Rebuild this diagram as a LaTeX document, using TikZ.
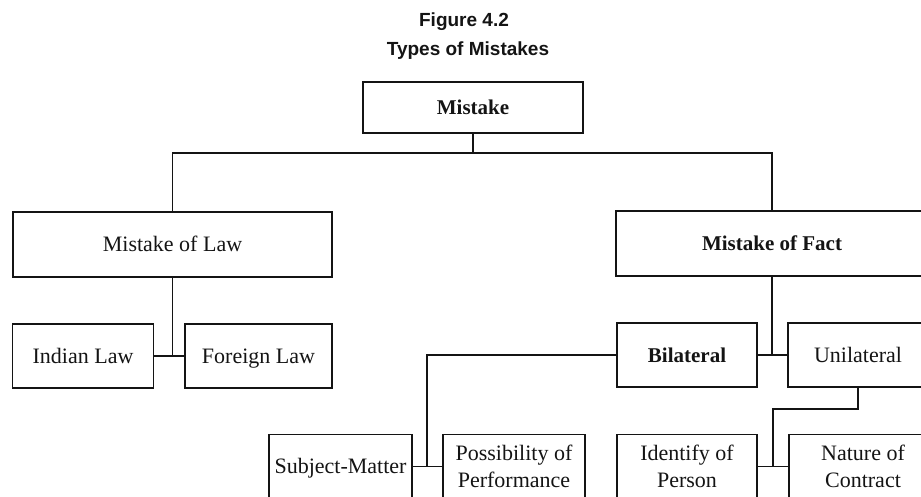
\documentclass[tikz,border=0pt]{standalone}
\usepackage{fontspec}
\setmainfont{Liberation Serif}
\newfontfamily\titlefont{Liberation Sans}
\usetikzlibrary{positioning, calc}
\definecolor{ink}{HTML}{141414}
\tikzset{
  box/.style={draw=ink, line width=1.7pt, text=ink, align=center, inner sep=0pt,
    font=\fontsize{22}{27}\selectfont},
  oneline/.style={text height=14.5pt, text depth=0pt},
  boldbox/.style={box, oneline, font=\fontsize{21}{26}\selectfont\bfseries},
  link/.style={draw=ink, line width=1.7pt},
  title/.style={font=\titlefont\bfseries\fontsize{19}{22}\selectfont, text=ink}
}

\begin{document}
\begin{tikzpicture}[x=1pt,y=-1pt]

\clip (0,0) rectangle (921,496);
\fill[white] (0,0) rectangle (921,496);

\node[title] (fig) at (464,22) {Figure 4.2};
\node[title] (types) at (468,51) {Types of Mistakes};

% Top
\node[boldbox, minimum width=220pt, minimum height=51pt] (mistake) at (473,107.5) {Mistake};

% Second level
\node[box, oneline, minimum width=319pt, minimum height=65pt] (law) at (172.5,244.5) {Mistake of Law};
\node[boldbox, minimum width=312pt, minimum height=65pt] (fact) at (772,243.5) {Mistake of Fact};

% Law branch
\node[box, oneline, minimum width=141pt, minimum height=64pt] (indian) at (83,356) {Indian Law};
\node[box, oneline, minimum width=147pt, minimum height=64pt] (foreign) at (258.5,356) {Foreign Law};

% Fact branch
\node[boldbox, minimum width=140pt, minimum height=64pt] (bilateral) at (687,355) {Bilateral};
\node[box, oneline, minimum width=140pt, minimum height=64pt] (unilateral) at (858,355) {Unilateral};

% Bottom level
\node[box, oneline, minimum width=143pt, minimum height=64pt] (subject) at (340.5,466.5) {Subject-Matter};
\node[box, minimum width=142pt, minimum height=64pt] (possibility) at (514,466.5) {Possibility of\\Performance};
\node[box, minimum width=140pt, minimum height=64pt] (identify) at (687,466.5) {Identify of\\Person};
\node[box, minimum width=148pt, minimum height=64pt] (nature) at (863,466.5) {Nature of\\Contract};

% Connectors
\coordinate (top) at (473,153);
\draw[link] (mistake.south) -- (top);
\draw[link] (law.north) |- (top) -| (fact.north);
\draw[link] (law.south) -- (law.south |- indian.east);
\draw[link] (indian.east) -- (foreign.west);
\draw[link] (fact.south) -- (fact.south |- bilateral.east);
\draw[link] (bilateral.east) -- (unilateral.west);

\coordinate (bjoin) at (427,466.5);
\draw[link] (bilateral.west) -| (bjoin);
\draw[link] (subject.east) -- (possibility.west);

\coordinate (ujoin) at (773,466.5);
\draw[link] (unilateral.south) -- ++(0,21) -| (ujoin);
\draw[link] (identify.east) -- (nature.west);

\end{tikzpicture}
\end{document}
